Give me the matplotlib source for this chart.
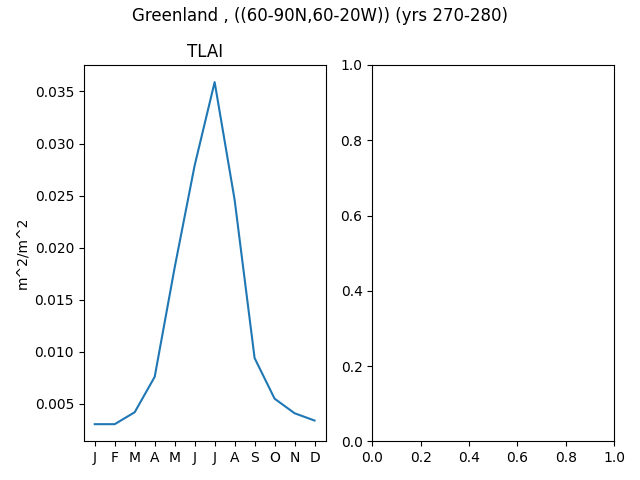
import matplotlib
matplotlib.use("Agg")
import matplotlib.pyplot as plt

months = ["J", "F", "M", "A", "M", "J", "J", "A", "S", "O", "N", "D"]
tlai = [0.00305, 0.00305, 0.0042, 0.0076, 0.0181, 0.0279, 0.0359, 0.0246, 0.0094, 0.0055, 0.0041, 0.0034]

fig, axes = plt.subplots(1, 2, figsize=(6.4, 4.8), dpi=100)
fig.suptitle("Greenland , ((60-90N,60-20W)) (yrs 270-280)", y=0.985)
ax = axes[0]
ax.plot(range(len(months)), tlai)
ax.set_xticks(range(len(months)))
ax.set_xticklabels(months)
ax.set_title("TLAI")
ax.set_ylabel("m^2/m^2")
fig.tight_layout()
fig.subplots_adjust(top=0.8646)
fig.savefig("out.png")
